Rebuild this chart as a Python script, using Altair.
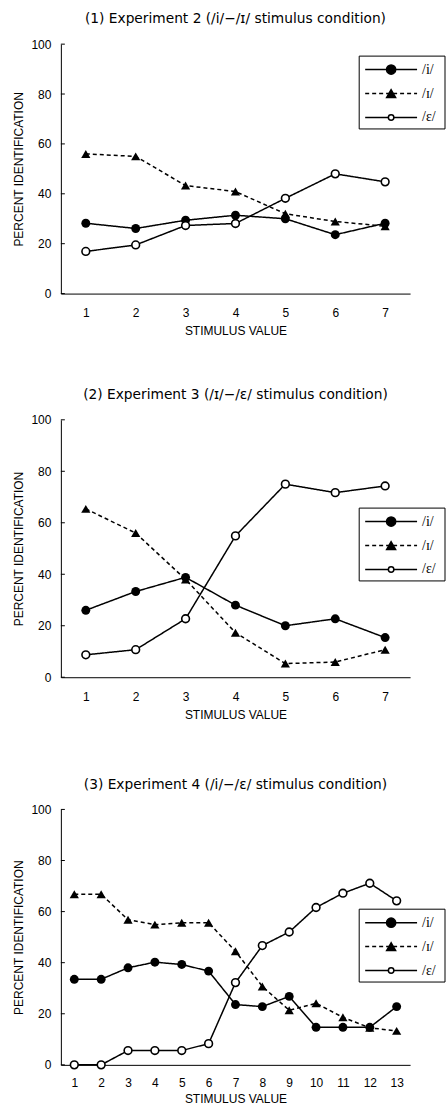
import altair as alt
import pandas as pd

SERIES = ["/i/", "/ɪ/", "/ɛ/"]
TITLES = [
    "(1) Experiment 2 (/i/−/ɪ/ stimulus condition)",
    "(2) Experiment 3 (/ɪ/−/ɛ/ stimulus condition)",
    "(3) Experiment 4 (/i/−/ɛ/ stimulus condition)",
]
Y_TICKS = [0, 20, 40, 60, 80, 100]

x7 = [1, 2, 3, 4, 5, 6, 7]
x13 = [1, 2, 3, 4, 5, 6, 7, 8, 9, 10, 11, 12, 13]

e2_i = [28.2, 26.1, 29.4, 31.4, 30.0, 23.6, 28.2]
e2_I = [56.0, 55.0, 43.3, 40.9, 32.0, 28.9, 27.0]
e2_e = [16.9, 19.5, 27.3, 28.1, 38.2, 48.0, 44.8]

e3_i = [26.0, 33.3, 38.8, 28.0, 20.0, 22.7, 15.4]
e3_I = [65.4, 56.0, 38.0, 17.3, 5.3, 5.9, 10.7]
e3_e = [8.7, 10.7, 22.7, 54.9, 75.0, 71.7, 74.3]

e4_i = [33.5, 33.5, 38.0, 40.2, 39.3, 36.7, 23.6, 22.8, 26.8, 14.7, 14.7, 14.7, 22.8]
e4_I = [66.8, 66.8, 56.8, 54.9, 55.6, 55.6, 44.5, 30.7, 21.4, 24.1, 18.6, 14.5, 13.3]
e4_e = [0.0, 0.0, 5.6, 5.6, 5.6, 8.3, 32.2, 46.7, 52.0, 61.6, 67.2, 71.1, 64.2]

# legend row styles: (line dash, marker shape, marker fill, marker size)
LEG_STYLE = [
    ([1, 0], "circle", "black", 85),
    ([4, 3], "triangle-up", "black", 80),
    ([1, 0], "circle", "white", 30),
]


def legend_layers(box_top):
    one = pd.DataFrame({"k": [0]})
    layers = [alt.Chart(one).mark_rect(fill="white", stroke="black", strokeWidth=1).encode(
        x=alt.value(299), x2=alt.value(385), y=alt.value(box_top), y2=alt.value(box_top + 73))]
    for k, (dash, shape, fill, size) in enumerate(LEG_STYLE):
        yy = box_top + 13.5 + 24 * k
        row = pd.DataFrame({"label": [SERIES[k]]})
        layers.append(alt.Chart(row).mark_rule(color="black", strokeWidth=1.5, strokeDash=dash).encode(
            x=alt.value(305), x2=alt.value(357), y=alt.value(yy)))
        layers.append(alt.Chart(row).mark_point(
            shape=shape, filled=True, fill=fill, stroke="black", strokeWidth=1.5,
            size=size, opacity=1).encode(x=alt.value(331), y=alt.value(yy)))
        layers.append(alt.Chart(row).mark_text(
            align="left", baseline="middle", font="Liberation Serif", fontSize=14,
            color="black").encode(x=alt.value(362), y=alt.value(yy), text="label:N"))
    return layers


def panel(title, xs, yi, yI, ye, height, box_top, lab_pad=14, title_pad=7):
    n = len(xs)
    df = pd.DataFrame({
        "x": xs * 3,
        "y": yi + yI + ye,
        "s": [SERIES[0]] * n + [SERIES[1]] * n + [SERIES[2]] * n,
    })
    ticks_df = pd.DataFrame({"t": Y_TICKS})
    xenc = alt.X("x:Q",
                 scale=alt.Scale(domain=[0.5, max(xs) + 0.5], nice=False, zero=False),
                 axis=alt.Axis(values=xs, title="STIMULUS VALUE", format="d",
                               labelPadding=lab_pad, titlePadding=title_pad))
    yenc = alt.Y("y:Q", scale=alt.Scale(domain=[0, 100], nice=False),
                 axis=alt.Axis(values=Y_TICKS, title="PERCENT IDENTIFICATION",
                               labelPadding=10, titlePadding=5))
    base = alt.Chart(df).encode(x=xenc, y=yenc)
    lines = base.mark_line(color="black", strokeWidth=1.5).encode(
        detail="s:N",
        strokeDash=alt.StrokeDash("s:N", scale=alt.Scale(domain=SERIES, range=[[1, 0], [4, 3], [1, 0]]),
                                  legend=None),
    )
    p_tri = base.transform_filter(alt.datum.s == SERIES[1]).mark_point(
        shape="triangle-up", filled=True, color="black", size=85, opacity=1)
    p_fill = base.transform_filter(alt.datum.s == SERIES[0]).mark_point(
        shape="circle", filled=True, color="black", size=80, opacity=1)
    p_open = base.transform_filter(alt.datum.s == SERIES[2]).mark_point(
        shape="circle", filled=True, fill="white", stroke="black", strokeWidth=1.6, size=60, opacity=1)
    yticks = alt.Chart(ticks_df).mark_rule(color="black", strokeWidth=1).encode(
        y=alt.Y("t:Q", scale=alt.Scale(domain=[0, 100], nice=False)),
        x=alt.value(0), x2=alt.value(4),
    )
    return alt.layer(yticks, lines, p_tri, p_fill, p_open, *legend_layers(box_top)).properties(
        width=350, height=height,
        title=alt.TitleParams(title, font="DejaVu Sans", fontSize=13.8, fontWeight="normal",
                              color="black", anchor="middle", offset=12),
    )


c1 = panel(TITLES[0], x7, e2_i, e2_I, e2_e, 250, 12)
c2 = panel(TITLES[1], x7, e3_i, e3_I, e3_e, 258, 88.5)
c3 = panel(TITLES[2], x13, e4_i, e4_I, e4_e, 256, 100, lab_pad=13, title_pad=5)

top = alt.vconcat(c1, c2, spacing=51.5)
chart = alt.vconcat(top, c3, spacing=57).properties(
    padding={"left": 12, "top": 11, "right": 0, "bottom": 0}
).configure_view(stroke=None).configure_axis(
    domainColor="black", domainWidth=1, ticks=False, tickSize=0, grid=False,
    labelFont="Liberation Sans", labelFontSize=12, labelColor="black",
    titleFont="Liberation Sans", titleFontSize=12, titleFontWeight="normal", titleColor="black",
)

chart.save("out.html", embed_options={"renderer": "svg", "actions": False})
